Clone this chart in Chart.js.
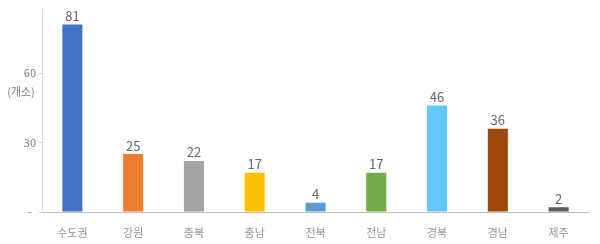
<!DOCTYPE html>
<html>
<head>
<meta charset="utf-8">
<script src="https://cdn.jsdelivr.net/npm/chart.js@4"></script>
<style>
  html, body { margin: 0; padding: 0; background: #fff; }
  #wrap { width: 600px; height: 244px; }
</style>
</head>
<body>
<div id="wrap"><canvas id="myChart" width="600" height="244"></canvas></div>
<script>
var regions = ['수도권', '강원', '충북', '충남', '전북', '전남', '경북', '경남', '제주'];
var counts = [81, 25, 22, 17, 4, 17, 46, 36, 2];
var barColors = ['#4472c4', '#ed7d31', '#a5a5a5', '#ffc000', '#5b9bd5', '#70ad47', '#62c8fa', '#9e480e', '#595959'];
var yTicks = [0, 30, 60];
var unitLabel = '(개소)';

var fontName = "'Noto Sans CJK KR', 'Noto Sans', sans-serif";

// value above each bar + unit under the 60 tick
var labelPlugin = {
  id: 'labels',
  afterDatasetsDraw(chart) {
    var ctx = chart.ctx;
    var meta = chart.getDatasetMeta(0);
    ctx.save();
    ctx.font = '13px ' + fontName;
    ctx.fillStyle = '#666666';
    ctx.textAlign = 'center';
    ctx.textBaseline = 'bottom';
    meta.data.forEach(function (bar, i) {
      ctx.fillText(counts[i], bar.x, bar.y - 2);
    });
    var y = chart.scales.y;
    ctx.font = '11px ' + fontName;
    ctx.fillStyle = '#7f7f7f';
    ctx.textBaseline = 'middle';
    ctx.fillText(unitLabel, y.left + y.width / 2, y.getPixelForValue(60) + 19);
    ctx.restore();
  }
};

var ctx = document.getElementById('myChart').getContext('2d');
var chart = new Chart(ctx, {
  type: 'bar',
  data: {
    labels: regions,
    datasets: [{
      data: counts,
      backgroundColor: barColors,
      barPercentage: 0.66,
      categoryPercentage: 0.5
    }]
  },
  options: {
    responsive: false,
    animation: false,
    layout: { padding: { top: 0, right: 11, left: 0, bottom: 0 } },
    plugins: {
      legend: { display: false },
      tooltip: { enabled: false }
    },
    scales: {
      x: {
        grid: { display: false },
        border: { color: '#bfbfbf', width: 1 },
        ticks: {
          color: '#959595',
          padding: 6,
          font: { size: 11, family: fontName }
        },
        afterFit(scale) { scale.height = 32; }
      },
      y: {
        min: 0,
        max: 87.4,
        afterBuildTicks(scale) {
          scale.ticks = yTicks.map(function (v) { return { value: v }; });
        },
        grid: { drawOnChartArea: false, tickLength: 3, color: '#d0d5dd' },
        border: { color: '#d9dee6', width: 1 },
        ticks: {
          color: '#7f7f7f',
          crossAlign: 'center',
          font: { size: 11, family: fontName },
          callback: function (v) { return v === 0 ? '-' : v; }
        },
        afterFit(scale) { scale.width = 42; }
      }
    }
  },
  plugins: [labelPlugin]
});
</script>
</body>
</html>
